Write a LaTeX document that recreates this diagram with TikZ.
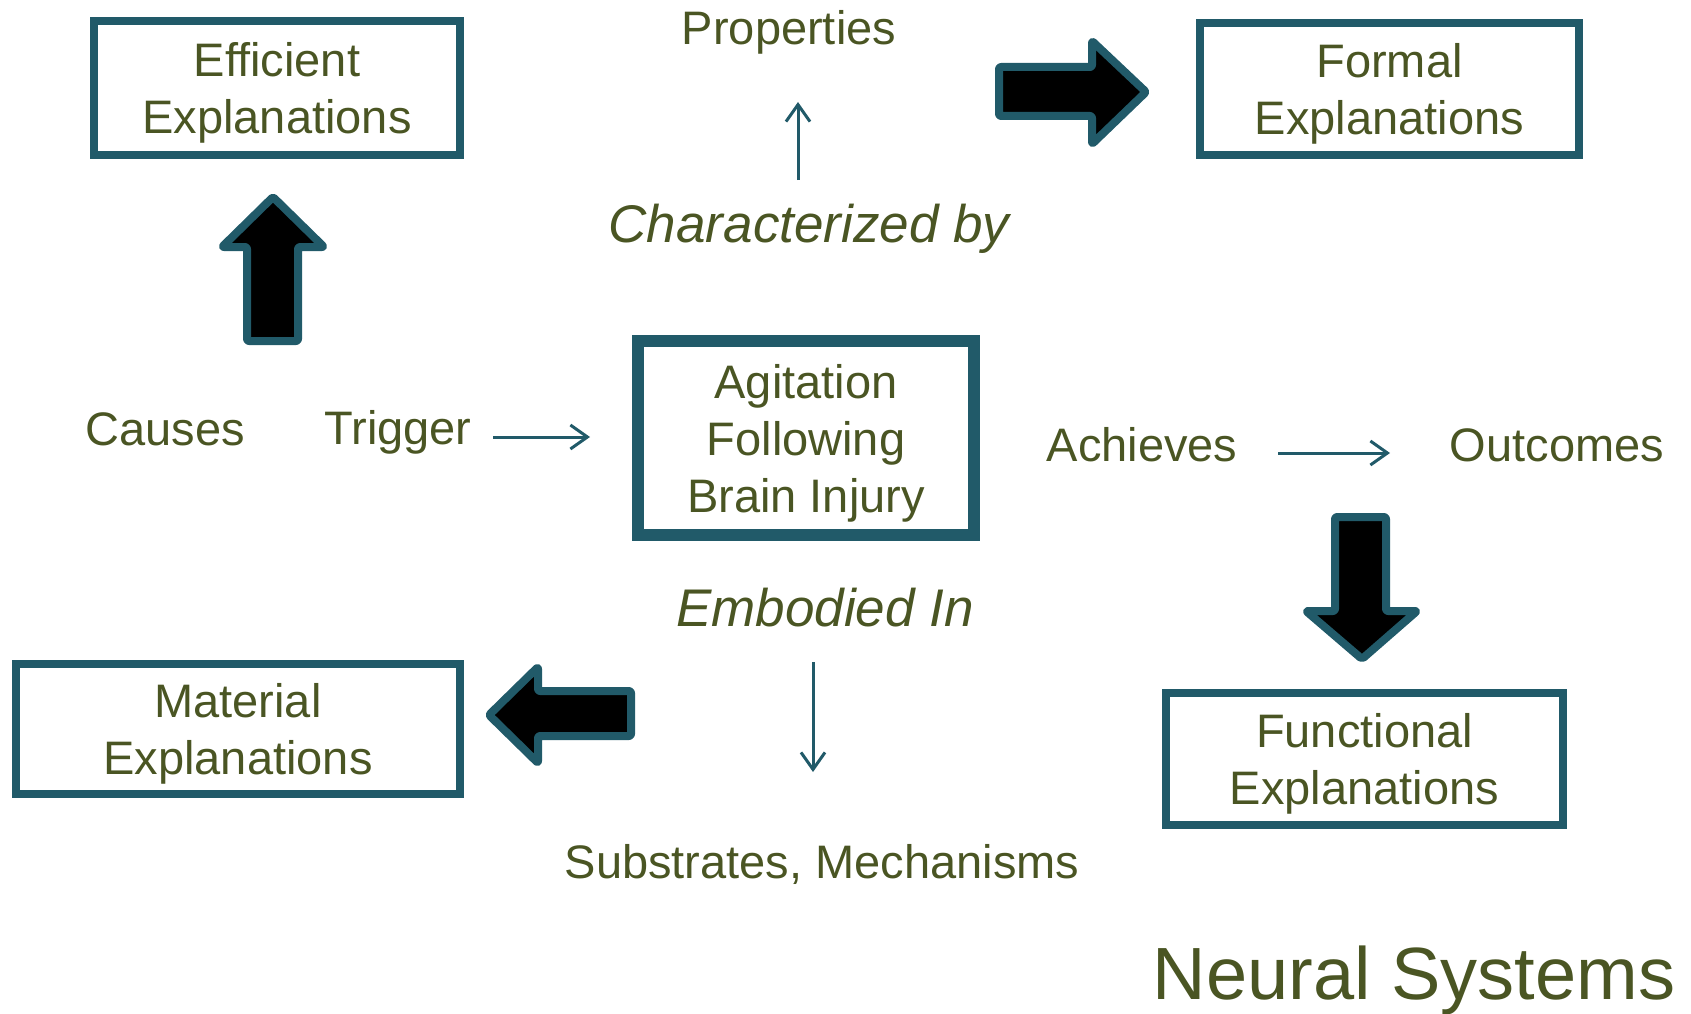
\documentclass[tikz,border=0pt]{standalone}
\usepackage{fontspec}
\setmainfont{Liberation Sans}
\usetikzlibrary{arrows.meta}
\definecolor{teal1}{HTML}{215A69}
\definecolor{olive1}{HTML}{4A5523}
\tikzset{
  txt/.style={inner sep=0pt, text=olive1, align=center, font=\fontsize{47}{57}\selectfont},
  itxt/.style={inner sep=0pt, text=olive1, font=\fontsize{53}{60}\selectfont\itshape},
  expbox/.style={draw=teal1, line width=8pt, fill=white, inner sep=0pt, text depth=0pt, text=olive1, align=center, font=\fontsize{47}{57}\selectfont},
  bigarrow/.style={draw=teal1, fill=black, line width=8pt, line join=round, rounded corners=2pt},
  thin/.style={draw=teal1, line width=3pt, -{Straight Barb[length=17pt,width=24pt,line width=3pt]}}
}
\begin{document}
\begin{tikzpicture}[x=1pt,y=-1pt]
\useasboundingbox (0,0) rectangle (1691,1014);
% boxes
\node[expbox, minimum width=366pt, minimum height=134pt] (eff) at (277,88) {Efficient\\Explanations};
\node[expbox, minimum width=379pt, minimum height=132pt] (form) at (1389.5,89) {Formal\\Explanations};
\node[expbox, line width=12pt, minimum width=336pt, minimum height=194pt] (agit) at (806,438) {Agitation\\Following\\Brain Injury};
\node[expbox, minimum width=444pt, minimum height=130pt] (mat) at (238,729) {Material\\Explanations};
\node[expbox, minimum width=397pt, minimum height=132pt] (func) at (1364.5,759) {Functional\\Explanations};
% labels
\node[txt] (prop) at (789,32) {Properties};
\node[itxt] (char) at (809,229) {Characterized by};
\node[txt] (causes) at (165,429) {Causes};
\node[txt] (trig) at (398,432) {Trigger};
\node[txt] (ach) at (1142,445) {Achieves};
\node[txt] (out) at (1557,445) {Outcomes};
\node[itxt] (emb) at (825,608) {Embodied In};
\node[txt] (subs) at (822,864) {Substrates, Mechanisms};
\node[inner sep=0pt, text=olive1, font=\fontsize{74}{80}\selectfont, anchor=base] (neur) at (1414,999) {Neural Systems};
% thin arrows
\coordinate (u1) at (798,180); \coordinate (u2) at (798,102);
\coordinate (t1) at (493,437); \coordinate (t2) at (590,437);
\coordinate (a1) at (1278,453); \coordinate (a2) at (1390,453);
\coordinate (d1) at (813,662); \coordinate (d2) at (813,772);
\draw[thin] (u1) -- (u2);
\draw[thin] (t1) -- (t2);
\draw[thin] (a1) -- (a2);
\draw[thin] (d1) -- (d2);
% big block arrows
\draw[bigarrow] (273,197) -- (222,247) -- (247,247) -- (247,341) -- (298,341) -- (298,247) -- (324,247) -- cycle;
\draw[bigarrow] (1146,92) -- (1092,41) -- (1092,67) -- (999,67) -- (999,116) -- (1092,116) -- (1092,144) -- cycle;
\draw[bigarrow] (489,715) -- (538,667) -- (538,691) -- (631,691) -- (631,736) -- (538,736) -- (538,763) -- cycle;
\draw[bigarrow] (1362,659) -- (1306,611) -- (1335,611) -- (1335,517) -- (1386,517) -- (1386,611) -- (1417,611) -- cycle;
\end{tikzpicture}
\end{document}
